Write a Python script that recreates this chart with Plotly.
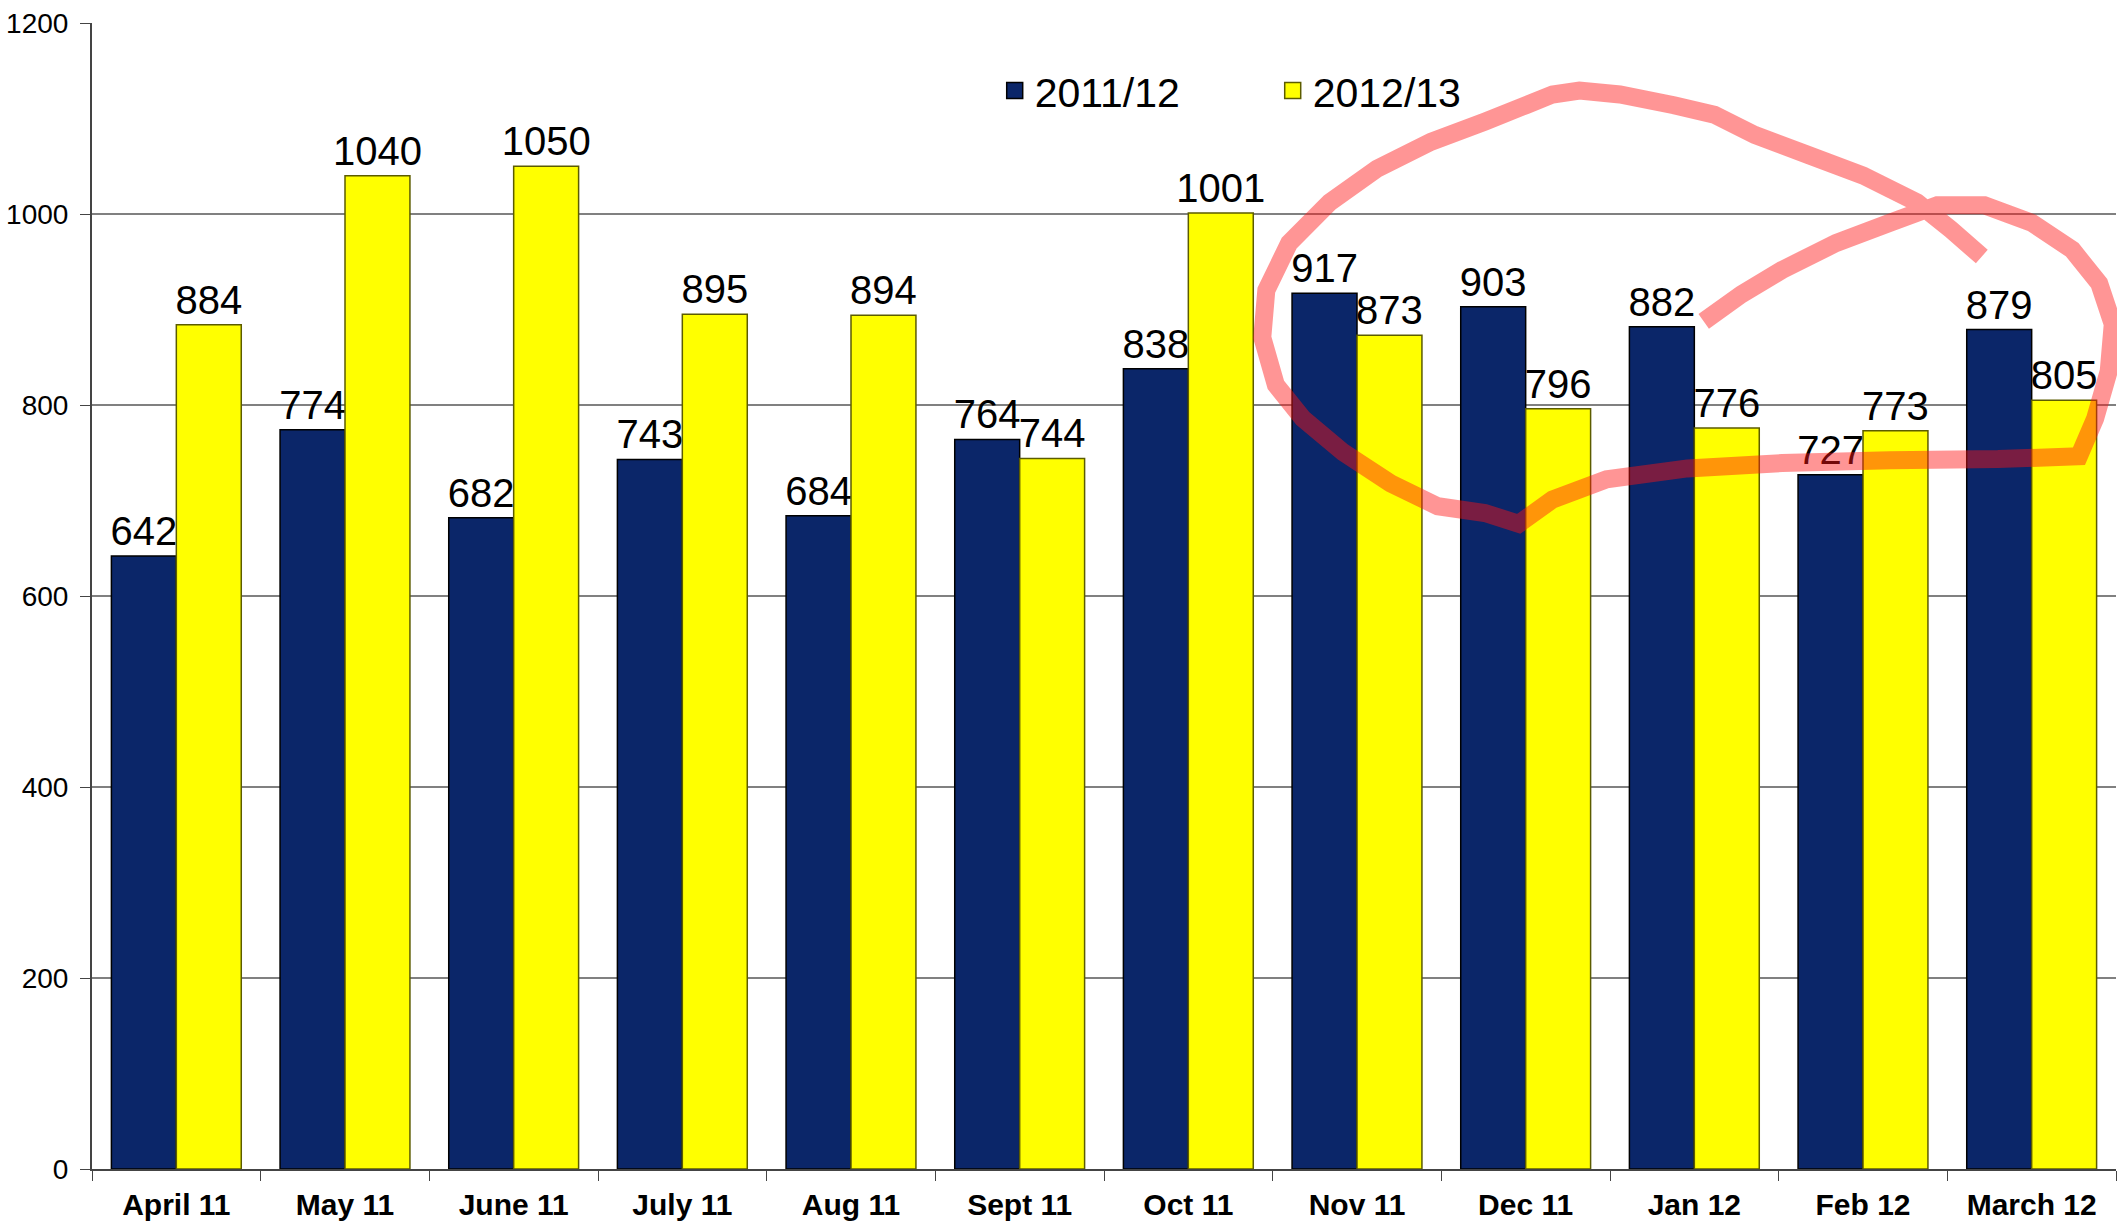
import plotly.graph_objects as go

categories = ["April 11", "May 11", "June 11", "July 11", "Aug 11", "Sept 11",
              "Oct 11", "Nov 11", "Dec 11", "Jan 12", "Feb 12", "March 12"]
series_2011 = [642, 774, 682, 743, 684, 764, 838, 917, 903, 882, 727, 879]
series_2012 = [884, 1040, 1050, 895, 894, 744, 1001, 873, 796, 776, 773, 805]
y_ticks = [0, 200, 400, 600, 800, 1000, 1200]

# hand-drawn red highlight (decoration), in pixel coords of the shrunk picture
scribble_px = [(1468,190),(1445,170),(1420,150),(1380,130),(1340,115),(1300,100),(1270,85),
               (1240,78),(1200,70),(1170,67),(1150,70),(1130,78),(1100,90),(1060,105),(1020,125),
               (985,150),(955,180),(938,215),(935,250),(945,285),(965,310),(995,335),(1030,358),
               (1065,375),(1100,380),(1125,388),(1150,370),(1190,355),(1250,347),(1320,343),
               (1400,341),(1480,340),(1540,338),(1552,310),(1562,275),(1565,240),(1555,210),
               (1535,185),(1505,165),(1470,152),(1435,152),(1400,165),(1360,180),(1320,200),
               (1290,218),(1262,238)]

W, H = 2117, 1226
ML, MR, MT, MB = 92, 1, 23, 57
pw, ph = W - ML - MR, H - MT - MB

def to_paper(pt):
    x, y = pt[0] * 1.35, pt[1] * 1.35
    return (x - ML) / pw, (H - MB - y) / ph

pts = [to_paper(p) for p in scribble_px]
path = "M " + " L ".join(f"{x:.4f},{y:.4f}" for x, y in pts)

NAVY, YELLOW = "#0B2669", "#FFFF00"
label_font = dict(family="Liberation Sans, Arial", size=40, color="#000")

fig = go.Figure()
fig.add_trace(go.Bar(
    name="2011/12", x=categories, y=series_2011, showlegend=False,
    marker=dict(color=NAVY, line=dict(color="#000000", width=1.5)),
    text=[str(v) for v in series_2011], textposition="outside",
    textfont=label_font, constraintext="none", cliponaxis=False,
))
fig.add_trace(go.Bar(
    name="2012/13", x=categories, y=series_2012, showlegend=False,
    marker=dict(color=YELLOW, line=dict(color="#5c5c00", width=1.5)),
    text=[str(v) for v in series_2012], textposition="outside",
    textfont=label_font, constraintext="none", cliponaxis=False,
))
# legend entries with larger square swatches
for name, col, lc in [("2011/12", NAVY, "#000"), ("2012/13", YELLOW, "#5c5c00")]:
    fig.add_trace(go.Scatter(
        x=[None], y=[None], mode="markers", name=name,
        marker=dict(symbol="square", size=24, color=col, line=dict(color=lc, width=1.5)),
    ))

fig.add_shape(type="path", path=path, xref="paper", yref="paper",
              line=dict(color="rgba(255,20,20,0.45)", width=18), layer="above")

fig.update_layout(
    width=W, height=H,
    margin=dict(l=ML, r=MR, t=MT, b=MB, pad=0),
    paper_bgcolor="white", plot_bgcolor="white",
    barmode="group", bargap=0.23, bargroupgap=0,
    showlegend=True,
    legend=dict(orientation="h", x=0.446, y=0.97, xanchor="left", yanchor="top",
                font=dict(family="Liberation Sans, Arial", size=41, color="#000"),
                bgcolor="rgba(0,0,0,0)", entrywidth=233, entrywidthmode="pixels",
                itemsizing="trace", itemwidth=30),
    font=dict(family="Liberation Sans, Arial", color="#000"),
)
fig.update_xaxes(
    type="category", tickson="boundaries", ticks="outside", ticklen=10,
    tickcolor="#444", showline=True, linecolor="#444", linewidth=2,
    tickfont=dict(family="Liberation Sans Narrow, Arial Narrow, Liberation Sans", size=30, color="#000", weight="bold"),
    ticklabelstandoff=8,
    showgrid=False,
)
fig.update_yaxes(
    range=[0, 1200], tickvals=y_ticks, ticks="outside", ticklen=10, tickcolor="#444",
    showline=True, linecolor="#444", linewidth=2,
    showgrid=True, gridcolor="#808080", gridwidth=1.5,
    tickfont=dict(family="Liberation Sans, Arial", size=28, color="#000"),
    ticklabelstandoff=6,
    zeroline=False,
)

fig.write_html("out.html", config={"displayModeBar": False})
with open("out.html", "r", encoding="utf-8") as f:
    html = f.read()
html = html.replace("<head>", "<head><style>html,body{margin:0;padding:0;overflow:hidden;}</style>", 1)
with open("out.html", "w", encoding="utf-8") as f:
    f.write(html)
